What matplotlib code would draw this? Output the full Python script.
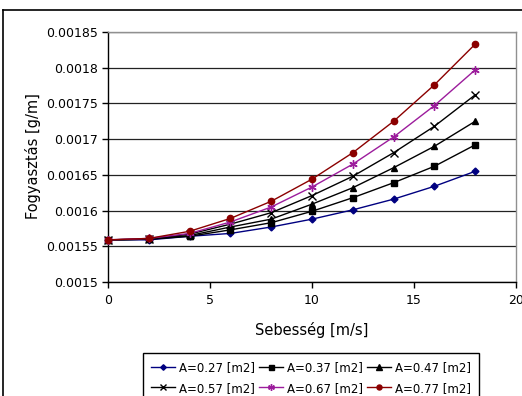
import matplotlib
matplotlib.use("Agg")
import matplotlib.pyplot as plt
from matplotlib.lines import Line2D

plt.rcParams['font.family'] = ['DejaVu Sans']

speed = [0, 2, 4, 6, 8, 10, 12, 14, 16, 18]
labels = ["A=0.27 [m2]", "A=0.37 [m2]", "A=0.47 [m2]",
          "A=0.57 [m2]", "A=0.67 [m2]", "A=0.77 [m2]"]
a027 = [0.001559, 0.001559, 0.001564, 0.001568, 0.001577, 0.001588, 0.001601, 0.001616, 0.001634, 0.001655]
a037 = [0.001559, 0.001560, 0.001564, 0.001573, 0.001583, 0.001599, 0.001618, 0.001639, 0.001662, 0.001692]
a047 = [0.001559, 0.001560, 0.001565, 0.001577, 0.001588, 0.001609, 0.001632, 0.001660, 0.001690, 0.001725]
a057 = [0.001559, 0.001560, 0.001567, 0.001581, 0.001597, 0.001621, 0.001648, 0.001681, 0.001718, 0.001762]
a067 = [0.001559, 0.001561, 0.001568, 0.001584, 0.001605, 0.001633, 0.001665, 0.001703, 0.001747, 0.001797]
a077 = [0.001559, 0.001561, 0.001571, 0.001589, 0.001613, 0.001644, 0.001681, 0.001725, 0.001776, 0.001833]
y_ticks = [0.0015, 0.00155, 0.0016, 0.00165, 0.0017, 0.00175, 0.0018, 0.00185]
y_tick_labels = ["0.0015", "0.00155", "0.0016", "0.00165", "0.0017", "0.00175", "0.0018", "0.00185"]
x_ticks = [0, 5, 10, 15, 20]

series = [a027, a037, a047, a057, a067, a077]
colors = ["#000080", "#000000", "#000000", "#000000", "#9C1C9C", "#8B0000"]
markers = ["D", "s", "^", "x", (6, 2, 0), "o"]
msizes = [3.5, 4.5, 5, 5.5, 6, 4.5]

fig = plt.figure(figsize=(5.22, 3.96), dpi=100)
ax = fig.add_axes([108/522, 1-282/396, (516-108)/522, (282-32)/396])

handles = []
for vals, lab, c, m, ms in zip(series, labels, colors, markers, msizes):
    h, = ax.plot(speed, vals, color=c, lw=1.0, marker=m, ms=ms, mec=c, mfc=c,
                 mew=1.0, label=lab, zorder=3, clip_on=False)
    handles.append(h)

ax.set_xlim(0, 20)
ax.set_ylim(0.0015, 0.00185)
ax.set_xticks(x_ticks)
ax.set_yticks(y_ticks)
ax.set_yticklabels(y_tick_labels)
ax.grid(axis='y', color='#222222', lw=0.9, zorder=1)
ax.tick_params(axis='both', labelsize=9, length=4, width=1, direction='out', colors='black')
ax.tick_params(axis='x', pad=5)
ax.tick_params(axis='y', pad=3)
for s in ['top', 'right']:
    ax.spines[s].set_color('#909090')
    ax.spines[s].set_linewidth(1.0)
for s in ['left', 'bottom']:
    ax.spines[s].set_color('black')
    ax.spines[s].set_linewidth(1.0)

fig.text(33/522, 1-156/396, "Fogyasztás [g/m]", rotation=90, ha='center', va='center', fontsize=10.5)
fig.text(312/522, 1-330/396, "Sebesség [m/s]", ha='center', va='center', fontsize=10.5)

# legend entries listed row by row
order = [0, 3, 1, 4, 2, 5]
leg = fig.legend([handles[i] for i in order], [labels[i] for i in order],
                 loc='upper left', bbox_to_anchor=(143/522, 1-353/396), ncol=3,
                 borderaxespad=0, fontsize=8.5, frameon=True, fancybox=False,
                 edgecolor='black', framealpha=1, handlelength=2.0, handletextpad=0.35,
                 columnspacing=0.36, borderpad=0.7, labelspacing=0.62, markerscale=0.8)
leg.get_frame().set_linewidth(1.0)

# outer chart border (open at right and bottom edges)
fig.add_artist(Line2D([3/522, 3/522], [0, 1-10/396], transform=fig.transFigure, color='black', lw=1.2))
fig.add_artist(Line2D([3/522, 1.0], [1-10/396, 1-10/396], transform=fig.transFigure, color='black', lw=1.2))

fig.savefig("out.png", dpi=100)
